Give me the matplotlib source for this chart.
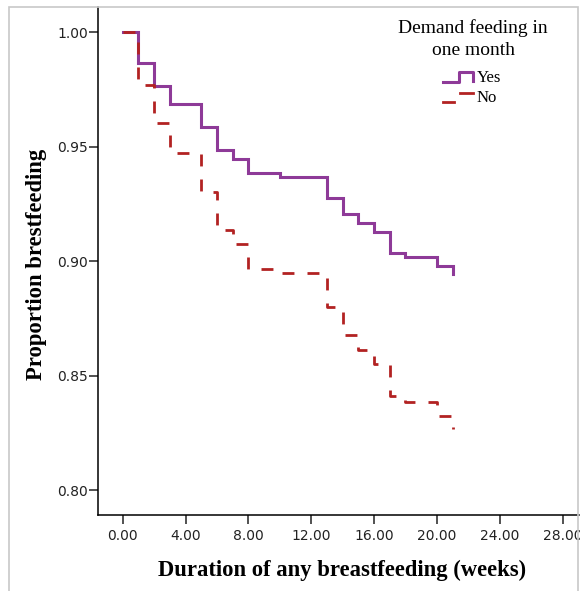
import matplotlib
matplotlib.use("Agg")
import matplotlib.pyplot as plt
from matplotlib.lines import Line2D
from matplotlib.legend_handler import HandlerBase
from matplotlib.patches import Rectangle

# ---- data ----
weeks_yes = [0, 1, 2, 3, 5, 6, 7, 8, 10, 13, 14, 15, 16, 17, 18, 20, 21]
surv_yes = [1.000, 0.9865, 0.9765, 0.9687, 0.9587, 0.9486, 0.9446, 0.9384,
            0.9369, 0.9277, 0.9205, 0.9165, 0.9126, 0.9034, 0.9019, 0.8980, 0.8944]
weeks_no = [0, 1, 2, 3, 5, 6, 7, 8, 10, 13, 14, 15, 16, 17, 18, 20, 21]
surv_no = [1.000, 0.977, 0.9602, 0.9471, 0.9303, 0.9136, 0.9075, 0.8966,
           0.8947, 0.8801, 0.8677, 0.8614, 0.8553, 0.8410, 0.8385, 0.8324, 0.8269]
x_ticks = [0, 4, 8, 12, 16, 20, 24, 28]
y_ticks = [0.80, 0.85, 0.90, 0.95, 1.00]
labels = ["Yes", "No"]
legend_title = "Demand feeding in\none month"

purple = "#8e3a98"
red = "#b22222"

fig = plt.figure(figsize=(5.8, 5.91), dpi=100)
# light gray outer frame
fig.patches.append(Rectangle((9 / 580, -0.05), (578 - 9) / 580, 1.05 - 7 / 591,
                             transform=fig.transFigure, fill=False,
                             edgecolor="#c8c8c8", lw=1.2, zorder=0))

ax = fig.add_axes([98.3 / 580, (591 - 515) / 591, (579 - 98.3) / 580, (515 - 7) / 591])
ax.patch.set_alpha(0)

ax.step(weeks_yes, surv_yes, where="post", color=purple, lw=2.2, solid_joinstyle="miter")
ax.step(weeks_no, surv_no, where="post", color=red, lw=2.0, dashes=[4.3, 4.7])

ax.set_xlim(-1.553, 29.05)
ax.set_ylim(0.7891, 1.0111)
ax.set_xticks(x_ticks)
ax.set_xticklabels([f"{v:.2f}" for v in x_ticks])
ax.set_yticks(y_ticks)
ax.set_yticklabels([f"{v:.2f}" for v in y_ticks])

for s in ["top", "right"]:
    ax.spines[s].set_visible(False)
for s in ["left", "bottom"]:
    ax.spines[s].set_linewidth(1.1)
ax.tick_params(axis="x", length=6.5, width=1.1, pad=3.5, labelsize=10, colors="#222222")
ax.tick_params(axis="y", length=6.5, width=1.1, pad=1.0, labelsize=10, colors="#222222")
for t in ax.get_xticklabels() + ax.get_yticklabels():
    t.set_family("DejaVu Sans")

fig.text(342 / 580, 1 - 570 / 591, "Duration of any breastfeeding (weeks)",
         family="Liberation Serif", weight="bold", fontsize=16.3, ha="center", va="center")
fig.text(37 / 580, 1 - 264 / 591, "Proportion brestfeeding", rotation=90,
         family="Liberation Serif", weight="bold", fontsize=16.3, ha="center", va="center")

# legend title
fig.text(473 / 580, 1 - 39 / 591, legend_title, family="Liberation Serif", fontsize=14,
         ha="center", va="center", multialignment="center", linespacing=1.35)


class StepHandler(HandlerBase):
    def __init__(self, kind, color):
        super().__init__()
        self.kind = kind
        self.color = color

    def create_artists(self, legend, orig_handle, xdescent, ydescent, width, height,
                       fontsize, trans):
        x0, y0 = -xdescent, -ydescent
        if self.kind == "yes":
            lo, hi = y0 + 0.05 * height, y0 + 0.85 * height
            xs = [x0, x0 + 0.55 * width, x0 + 0.55 * width, x0 + width, x0 + width]
            ys = [lo, lo, hi, hi, lo + 0.05 * height]
            l = Line2D(xs, ys, color=self.color, lw=2.2, transform=trans)
            return [l]
        else:
            lo, hi = y0 + 0.0 * height, y0 + 0.75 * height
            l1 = Line2D([x0, x0 + 0.38 * width], [lo, lo], color=self.color, lw=2.0,
                        transform=trans)
            l2 = Line2D([x0 + 0.58 * width, x0 + width], [hi, hi], color=self.color,
                        lw=2.0, transform=trans)
            return [l1, l2]


h_yes = Line2D([], [], color=purple)
h_no = Line2D([], [], color=red)
leg = ax.legend([h_yes, h_no], labels, frameon=False,
                loc="center", bbox_to_anchor=(472 / 580, 1 - 88 / 591),
                bbox_transform=fig.transFigure,
                prop={"family": "Liberation Serif", "size": 12},
                handlelength=1.8, handletextpad=0.25, labelspacing=0.22,
                borderaxespad=0, borderpad=0,
                handler_map={h_yes: StepHandler("yes", purple),
                             h_no: StepHandler("no", red)})

fig.savefig("out.png", dpi=100)
